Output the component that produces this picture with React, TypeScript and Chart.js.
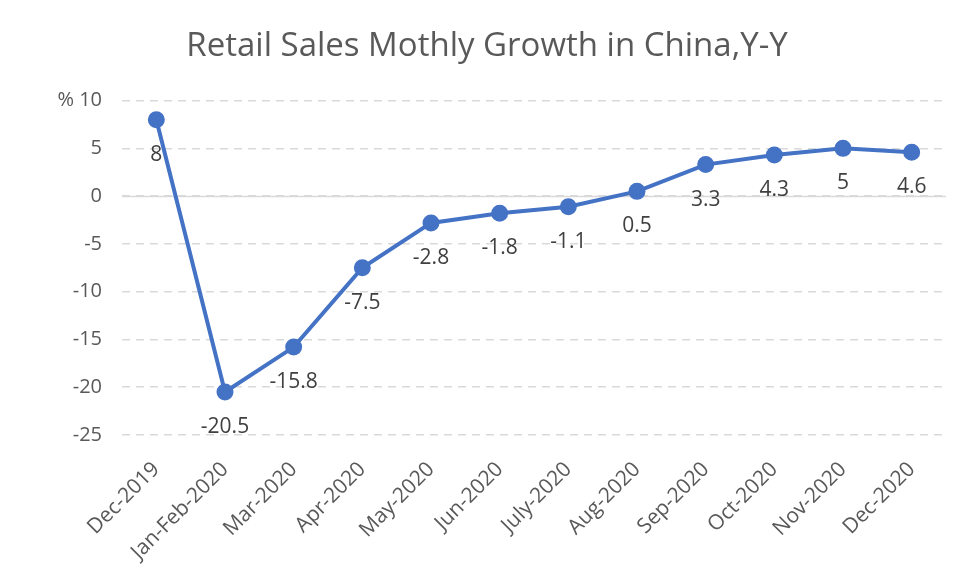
import React, { useEffect, useRef } from "react";
import { Chart, registerables } from "chart.js";

Chart.register(...registerables);

const TITLE = "Retail Sales Mothly Growth in China,Y-Y";
const categories = [
  "Dec-2019", "Jan-Feb-2020", "Mar-2020", "Apr-2020", "May-2020", "Jun-2020",
  "July-2020", "Aug-2020", "Sep-2020", "Oct-2020", "Nov-2020", "Dec-2020",
];
const growth = [8, -20.5, -15.8, -7.5, -2.8, -1.8, -1.1, 0.5, 3.3, 4.3, 5, 4.6];
const yMin = -25;
const yMax = 10;
const yStep = 5;

const FONT = "'Open Sans', 'Noto Sans', sans-serif";

const extrasPlugin = {
  id: "extras",
  beforeDatasetsDraw(chart: any) {
    const { ctx, chartArea, scales } = chart;
    const y = Math.round(scales.y.getPixelForValue(0)) + 0.5;
    ctx.save();
    ctx.strokeStyle = "#d9d9d9";
    ctx.lineWidth = 1.5;
    ctx.beginPath();
    ctx.moveTo(chartArea.left, y);
    ctx.lineTo(chartArea.right, y);
    ctx.stroke();
    ctx.restore();
  },
  afterDatasetsDraw(chart: any) {
    const { ctx } = chart;
    const meta = chart.getDatasetMeta(0);
    ctx.save();
    ctx.fillStyle = "#404040";
    ctx.font = `21px ${FONT}`;
    ctx.textAlign = "center";
    ctx.textBaseline = "middle";
    meta.data.forEach((pt: any, i: number) => {
      ctx.fillText(String(growth[i]), pt.x, pt.y + 35);
    });
    ctx.restore();
  },
};

export default function App() {
  const ref = useRef<HTMLCanvasElement>(null);
  useEffect(() => {
    if (!ref.current) return;
    const chart = new Chart(ref.current, {
      type: "line",
      data: {
        labels: categories,
        datasets: [
          {
            data: growth,
            borderColor: "#4472C4",
            backgroundColor: "#4472C4",
            borderWidth: 4,
            pointRadius: 6.5,
            pointHoverRadius: 6.5,
            pointBackgroundColor: "#4472C4",
            pointBorderColor: "#4472C4",
            tension: 0,
          },
        ],
      },
      options: {
        animation: false,
        responsive: false,
        maintainAspectRatio: false,
        layout: { padding: { left: 20, right: 20, top: 0, bottom: 0 } },
        plugins: {
          legend: { display: false },
          tooltip: { enabled: false },
          title: {
            display: true,
            text: TITLE,
            color: "#595959",
            font: { family: FONT, size: 33, weight: "normal" },
            padding: { top: 19, bottom: 34 },
          },
        },
        scales: {
          x: {
            offset: true,
            grid: { display: false },
            border: { display: false },
            afterFit: (s: any) => {
              s.height = 142;
            },
            ticks: {
              color: "#595959",
              font: { family: FONT, size: 21 },
              minRotation: 45,
              maxRotation: 45,
              autoSkip: false,
              padding: 14,
            },
          },
          y: {
            min: yMin,
            max: yMax,
            afterFit: (s: any) => {
              s.width = 94;
            },
            grid: { color: "#d9d9d9", lineWidth: 1.5, drawTicks: false },
            border: { display: false, dash: [8, 6] },
            ticks: {
              stepSize: yStep,
              color: "#595959",
              font: { family: FONT, size: 20 },
              padding: 20,
              callback: (v: any) => (v === yMax ? "% " + v : String(v)),
            },
          },
        },
      },
      plugins: [extrasPlugin],
    });
    return () => chart.destroy();
  }, []);
  return (
    <div style={{ width: 958, height: 569 }}>
      <canvas ref={ref} width={958} height={569} />
    </div>
  );
}
